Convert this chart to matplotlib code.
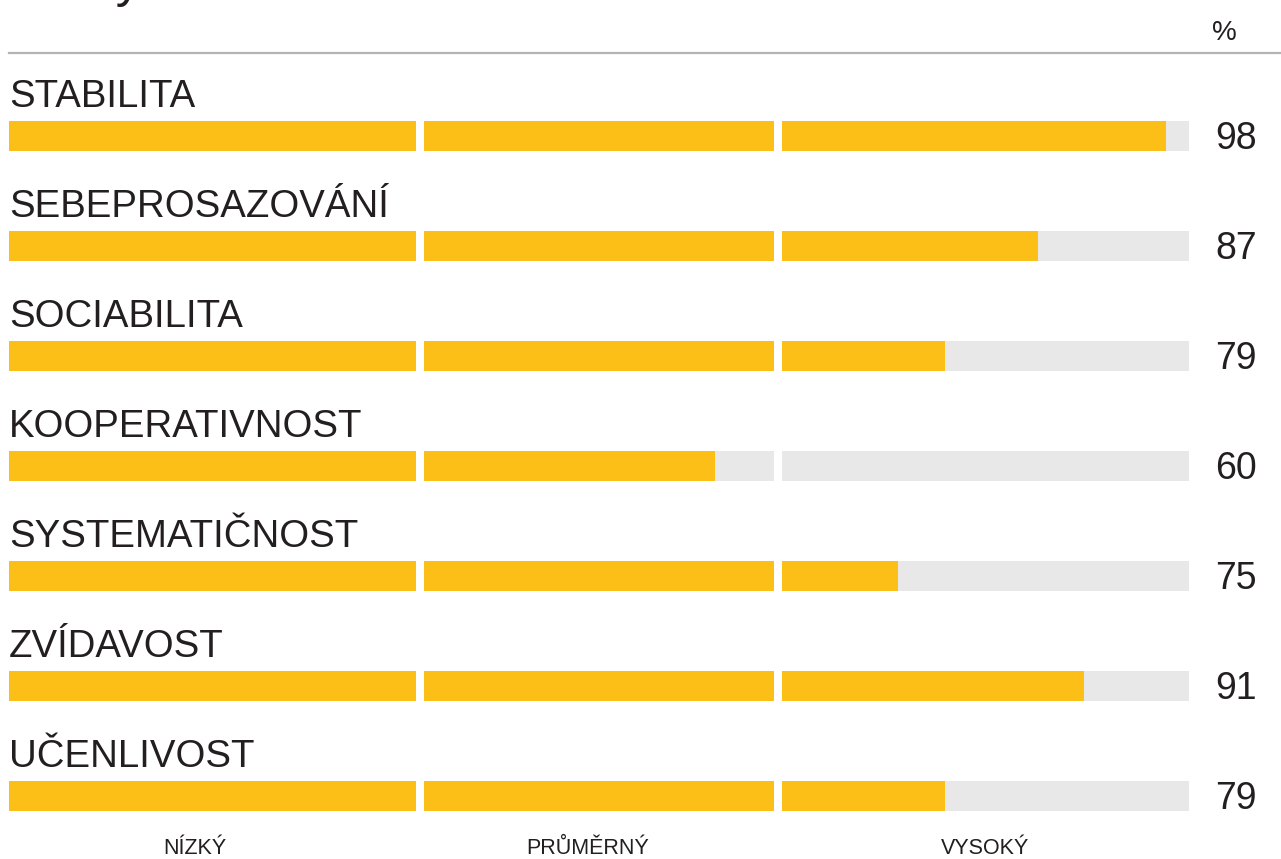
#!/usr/bin/env python3
import matplotlib
matplotlib.use("Agg")
import matplotlib.pyplot as plt
from matplotlib.lines import Line2D
from matplotlib.transforms import blended_transform_factory

# data
traits = ["STABILITA", "SEBEPROSAZOVÁNÍ", "SOCIABILITA", "KOOPERATIVNOST",
          "SYSTEMATIČNOST", "ZVÍDAVOST", "UČENLIVOST"]
scores = [98, 87, 79, 60, 75, 91, 79]
band_edges = [0, 35, 65, 100]
band_names = ["NÍZKÝ", "PRŮMĚRNÝ", "VYSOKÝ"]
band_label_pos = [16, 49, 82.5]
title = "Analýza"
unit = "%"

YELLOW = "#FBBF17"
TRACK = "#E8E8E8"
TEXT = "#231F20"
GAP = 0.687  # gap between bands, in score units

W, H = 1281, 859
fig = plt.figure(figsize=(W / 100, H / 100), dpi=100)

# axes spanning the bar area horizontally, the whole figure vertically
x0, x1 = 9, 1189
ax = fig.add_axes([x0 / W, 0, (x1 - x0) / W, 1])
ax.set_xlim(0, 100 + 2 * GAP)
row0, step = 136, 110
ax.set_ylim((H - row0) / step, -row0 / step)
ax.axis("off")

bar_h = 30 / step
sans = ["Liberation Sans", "DejaVu Sans"]

val_tr = blended_transform_factory(fig.transFigure, ax.transData)

for i, (name, v) in enumerate(zip(traits, scores)):
    for k in range(3):
        lo, hi = band_edges[k], band_edges[k + 1]
        off = k * GAP
        ax.barh(i, hi - lo, left=lo + off, height=bar_h, color=TRACK, linewidth=0)
        if v > lo:
            ax.barh(i, min(v, hi) - lo, left=lo + off, height=bar_h,
                    color=YELLOW, linewidth=0)
    ax.text(0.0, i - 29 / step, name, family=sans, fontsize=27.6, color=TEXT,
            ha="left", va="baseline", clip_on=False)
    ax.text(1215 / W, i + 13 / step, str(v), family=sans, fontsize=27,
            color=TEXT, ha="left", va="baseline", transform=val_tr, clip_on=False)

for k, name in enumerate(band_names):
    ax.text(band_label_pos[k] + k * GAP, (854 - row0) / step, name, family=sans,
            fontsize=15.5, color=TEXT, ha="center", va="baseline", clip_on=False)

# header rule, unit and the cut-off title
fig.add_artist(Line2D([x0 / W, 1], [1 - 53 / H, 1 - 53 / H], color="#B3B3B3",
                      linewidth=1.6))
fig.text(1224 / W, 1 - 40 / H, unit, family=sans, fontsize=20, color=TEXT,
         ha="center", va="baseline")
fig.text(14 / W, 1 + 4 / H, title, family=sans, fontsize=37, color=TEXT,
         ha="left", va="baseline")

fig.savefig("out.png", dpi=100)
